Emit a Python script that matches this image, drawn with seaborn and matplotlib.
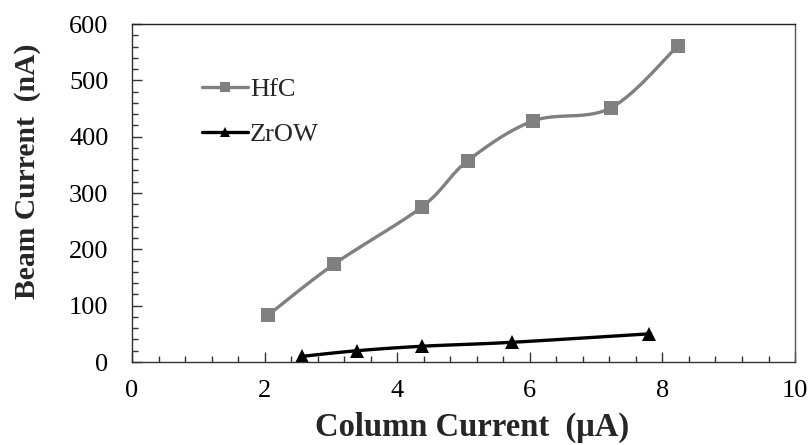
import numpy as np
import pandas as pd
import matplotlib
matplotlib.use("Agg")
import matplotlib.pyplot as plt
from matplotlib.lines import Line2D
from matplotlib.ticker import MultipleLocator
import seaborn as sns

# Data
hfc_x = [2.05, 3.05, 4.38, 5.06, 6.05, 7.22, 8.23]
hfc_y = [83, 174, 276, 357, 428, 451, 561]
zrow_x = [2.56, 3.39, 4.38, 5.73, 7.80]
zrow_y = [10, 20, 28, 35, 50]

series_names = ["HfC", "ZrOW"]
x_ticks = [0, 2, 4, 6, 8, 10]
y_ticks = [0, 100, 200, 300, 400, 500, 600]


def smooth(xs, ys, n=30):
    """Excel-like smoothed line (Catmull-Rom Bezier)."""
    P = np.column_stack([xs, ys]).astype(float)
    out = []
    for i in range(len(P) - 1):
        p0 = P[i - 1] if i > 0 else P[i]
        p1 = P[i]
        p2 = P[i + 1]
        p3 = P[i + 2] if i + 2 < len(P) else P[i + 1]
        c1 = p1 + (p2 - p0) / 6.0
        c2 = p2 - (p3 - p1) / 6.0
        t = np.linspace(0, 1, n)[:, None]
        seg = ((1 - t) ** 3) * p1 + 3 * ((1 - t) ** 2) * t * c1 + 3 * (1 - t) * t ** 2 * c2 + t ** 3 * p2
        out.append(seg if i == 0 else seg[1:])
    a = np.vstack(out)
    return pd.DataFrame({"x": a[:, 0], "y": a[:, 1]})


sns.set_theme(style="white")
plt.rcParams["font.family"] = ["Liberation Serif", "DejaVu Serif"]

fig = plt.figure(figsize=(8.11, 4.45), dpi=100)
ax = fig.add_axes([0.1628, 0.1865, 0.8175, 0.7595])

hfc_color = "#808080"
zrow_color = "#000000"

sns.lineplot(data=smooth(hfc_x, hfc_y), x="x", y="y", sort=False, ax=ax,
             color=hfc_color, linewidth=2.4, estimator=None)
sns.lineplot(x=hfc_x, y=hfc_y, ax=ax, color=hfc_color, linewidth=0,
             marker="s", markersize=9.5, markeredgewidth=0, estimator=None)
sns.lineplot(data=smooth(zrow_x, zrow_y), x="x", y="y", sort=False, ax=ax,
             color=zrow_color, linewidth=2.4, estimator=None)
sns.lineplot(x=zrow_x, y=zrow_y, ax=ax, color=zrow_color, linewidth=0,
             marker="^", markersize=10, markeredgewidth=0, estimator=None)

ax.set_xlim(0, 10)
ax.set_ylim(0, 600)
ax.set_xticks(x_ticks)
ax.set_yticks(y_ticks)
ax.xaxis.set_minor_locator(MultipleLocator(0.4))
ax.yaxis.set_minor_locator(MultipleLocator(20))
ax.tick_params(axis="both", which="both", direction="in", colors="#333333",
               labelcolor="black", labelsize=19)
ax.tick_params(axis="x", which="both", top=False, bottom=True)
ax.tick_params(axis="y", which="both", left=True, right=False)
ax.tick_params(axis="both", which="major", length=7, width=1)
ax.tick_params(axis="both", which="minor", length=4.5, width=1)
ax.tick_params(axis="x", which="major", pad=13)
ax.tick_params(axis="y", which="major", pad=17)

for s in ax.spines.values():
    s.set_color("#555555")
    s.set_linewidth(1.0)
ax.spines["left"].set_color("#333333")
ax.spines["bottom"].set_color("#333333")
ax.spines["top"].set_color("#222222")

ax.set_xlabel("Column Current  (μA)", fontsize=23.5, fontweight="bold")
ax.set_ylabel("Beam Current  (nA)", fontsize=21.3, fontweight="bold")
ax.xaxis.label.set_va("center")
ax.yaxis.label.set_va("center")
ax.xaxis.set_label_coords(0.513, -0.193)
ax.yaxis.set_label_coords(-0.157, 0.565)

handles = [
    Line2D([], [], color=hfc_color, linewidth=2.4, marker="s", markersize=7, markeredgewidth=0),
    Line2D([], [], color=zrow_color, linewidth=2.4, marker="^", markersize=7, markeredgewidth=0),
]
ax.legend(handles, series_names, loc="upper left", bbox_to_anchor=(0.09, 0.872),
          frameon=False, fontsize=19, handlelength=1.75, handletextpad=0.05,
          labelspacing=0.8, borderaxespad=0)

fig.savefig("out.png", dpi=100)
